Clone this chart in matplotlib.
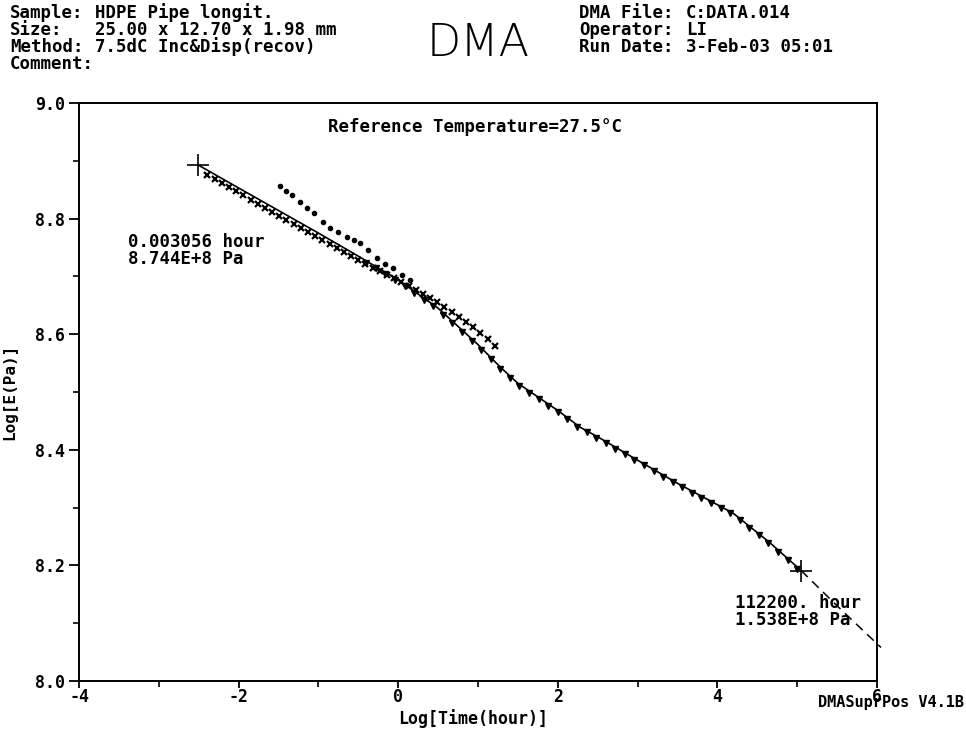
import matplotlib
matplotlib.use("Agg")
import matplotlib.pyplot as plt

# curva maestra (ajuste)
fit_x = [-2.51, -2.0, -1.5, -1.0, -0.5, 0.0, 0.5, 1.0, 1.28, 1.5, 2.0, 2.28, 2.53,
         3.0, 3.5, 4.0, 4.2, 4.66, 5.05]
fit_y = [8.893, 8.853, 8.814, 8.775, 8.735, 8.694, 8.645, 8.582, 8.543, 8.515, 8.468,
         8.439, 8.420, 8.382, 8.342, 8.305, 8.290, 8.239, 8.191]

# extrapolacion (discontinua)
ext_x = [5.05, 5.5, 6.05]
ext_y = [8.191, 8.130, 8.058]

# puntos extremos marcados con +
end_x = [-2.51, 5.05]
end_y = [8.893, 8.191]

# serie con cruces x
xs_x = [-2.40, -2.30, -2.21, -2.12, -2.03, -1.94, -1.85, -1.76, -1.67, -1.58, -1.49,
        -1.40, -1.31, -1.22, -1.13, -1.04, -0.95, -0.86, -0.77, -0.68, -0.59, -0.50,
        -0.41, -0.32, -0.23, -0.14, -0.05, 0.04, 0.13, 0.22, 0.31, 0.40, 0.49, 0.58,
        0.67, 0.76, 0.85, 0.94, 1.03, 1.12, 1.21]
xs_y = [8.876, 8.869, 8.862, 8.855, 8.847, 8.840, 8.833, 8.826, 8.819, 8.812, 8.805,
        8.798, 8.791, 8.784, 8.777, 8.770, 8.763, 8.756, 8.749, 8.742, 8.735, 8.728,
        8.722, 8.715, 8.709, 8.703, 8.697, 8.690, 8.683, 8.676, 8.669, 8.662, 8.655,
        8.647, 8.639, 8.630, 8.621, 8.612, 8.602, 8.591, 8.580]

# serie con puntos
dots_x = [-1.48, -1.40, -1.33, -1.23, -1.14, -1.06, -0.94, -0.85, -0.76, -0.64, -0.55,
          -0.48, -0.38, -0.27, -0.16, -0.06, 0.05, 0.15]
dots_y = [8.856, 8.848, 8.841, 8.828, 8.818, 8.809, 8.794, 8.784, 8.776, 8.768, 8.763,
          8.757, 8.745, 8.732, 8.721, 8.714, 8.703, 8.693]

# serie con triangulos
tri_x = [-0.40, -0.28, -0.16, -0.04, 0.08, 0.20, 0.32, 0.44, 0.56, 0.68, 0.80, 0.92,
         1.04, 1.16, 1.28, 1.40, 1.52, 1.64, 1.76, 1.88, 2.00, 2.12, 2.24, 2.36, 2.48,
         2.60, 2.72, 2.84, 2.96, 3.08, 3.20, 3.32, 3.44, 3.56, 3.68, 3.80, 3.92, 4.04,
         4.16, 4.28, 4.40, 4.52, 4.64, 4.76, 4.88, 5.00]
tri_y = [8.724, 8.714, 8.704, 8.694, 8.683, 8.671, 8.660, 8.648, 8.634, 8.619, 8.604,
         8.589, 8.573, 8.557, 8.540, 8.525, 8.510, 8.499, 8.488, 8.476, 8.465, 8.453,
         8.440, 8.430, 8.421, 8.411, 8.402, 8.392, 8.382, 8.373, 8.363, 8.353, 8.344,
         8.335, 8.326, 8.317, 8.308, 8.299, 8.290, 8.278, 8.265, 8.252, 8.238, 8.224,
         8.209, 8.194]

x_ticks = [-4, -2, 0, 2, 4, 6]
y_ticks = [8.0, 8.2, 8.4, 8.6, 8.8, 9.0]

W, H = 966, 732
MONO = "DejaVu Sans Mono"

fig = plt.figure(figsize=(W / 100, H / 100), dpi=100)
ax = fig.add_axes([79 / W, 1 - 681 / H, (877 - 79) / W, (681 - 103) / H])


def texto(px, py, s, size=12.5, **kw):
    kw.setdefault("family", MONO)
    kw.setdefault("weight", "bold")
    kw.setdefault("va", "center")
    fig.text(px / W, 1 - py / H, s, fontsize=size, **kw)


ax.plot(fit_x, fit_y, color="black", lw=1.2, zorder=3)
ax.plot(ext_x, ext_y, color="black", lw=1.1, ls=(0, (6, 4)), clip_on=False, zorder=3)
ax.plot(xs_x, xs_y, ls="none", marker="x", ms=4.5, mew=1.6, color="black", zorder=2)
ax.plot(dots_x, dots_y, ls="none", marker="o", ms=3, color="black", zorder=2)
ax.plot(tri_x, tri_y, ls="none", marker="v", ms=5, color="black", zorder=2)
ax.plot(end_x, end_y, ls="none", marker="+", ms=16, mew=1.2, color="black", zorder=4)

ax.set_xlim(-4, 6)
ax.set_ylim(8.0, 9.0)
ax.set_xticks(x_ticks)
ax.set_yticks(y_ticks)
ax.set_xticks([-3, -1, 1, 3, 5], minor=True)
ax.set_yticks([8.1, 8.3, 8.5, 8.7, 8.9], minor=True)
ax.set_xticklabels([str(v) for v in x_ticks])
ax.set_yticklabels(["%.1f" % v for v in y_ticks])
ax.tick_params(which="major", direction="out", length=7, width=1.3, labelsize=12, pad=3)
ax.tick_params(which="minor", direction="out", length=4, width=1.2)
ax.tick_params(axis="x", which="major", length=5, pad=0)
for lab in ax.get_xticklabels() + ax.get_yticklabels():
    lab.set_family(MONO)
    lab.set_weight("bold")
for sp in ax.spines.values():
    sp.set_linewidth(1.4)

# cabecera
texto(10, 13, "Sample:")
texto(95, 13, "HDPE Pipe longit.")
texto(10, 30, "Size:")
texto(95, 30, "25.00 x 12.70 x 1.98 mm")
texto(10, 47, "Method:")
texto(95, 47, "7.5dC Inc&Disp(recov)")
texto(10, 64, "Comment:")
texto(579, 13, "DMA File:")
texto(686, 13, "C:DATA.014")
texto(579, 30, "Operator:")
texto(686, 30, "LI")
texto(579, 47, "Run Date:")
texto(686, 47, "3-Feb-03 05:01")
texto(478, 43, "DMA", 32, family="DejaVu Sans", weight="light", ha="center")

# textos dentro del grafico
texto(328, 127, "Reference Temperature=27.5°C")
texto(128, 242, "0.003056 hour")
texto(128, 259, "8.744E+8 Pa")
texto(735, 603, "112200. hour")
texto(735, 620, "1.538E+8 Pa")
texto(818, 703, "DMASuprPos V4.1B", 11)

# ejes
texto(473, 719, "Log[Time(hour)]", 12, ha="center")
texto(10, 392, "Log[E(Pa)]", 11.5, ha="center", rotation=90)

fig.savefig("out.png", dpi=100)
